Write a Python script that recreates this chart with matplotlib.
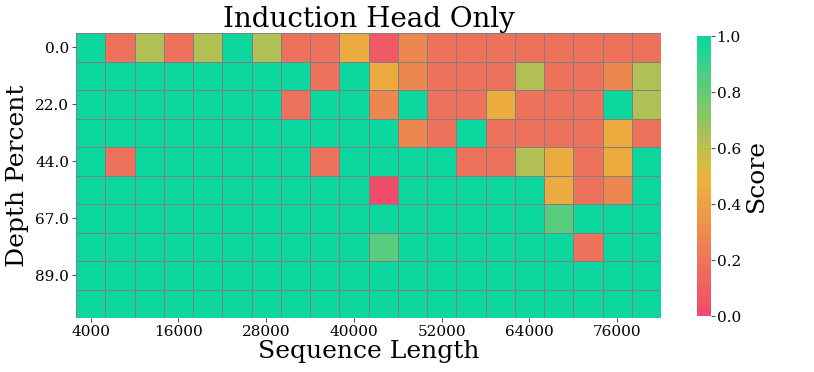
import matplotlib

matplotlib.use("Agg")
import matplotlib.pyplot as plt
import numpy as np
from matplotlib.colors import LinearSegmentedColormap

plt.rcParams["font.family"] = ["DejaVu Serif"]

# context lengths (columns) and needle depths (rows)
context_lengths = [4000, 8000, 12000, 16000, 20000, 24000, 28000, 32000, 36000, 40000,
                   44000, 48000, 52000, 56000, 60000, 64000, 68000, 72000, 76000, 80000]
depth_percents = [0.0, 11.0, 22.0, 33.0, 44.0, 56.0, 67.0, 78.0, 89.0, 100.0]

# scores, one list per depth row
row_00 = [1, .18, .63, .18, .63, 1, .63, .18, .18, .44, .08, .28, .18, .18, .18, .18, .18, .18, .18, .18]
row_11 = [1, 1, 1, 1, 1, 1, 1, 1, .18, 1, .44, .28, .18, .18, .18, .63, .18, .18, .28, .63]
row_22 = [1, 1, 1, 1, 1, 1, 1, .18, 1, 1, .28, 1, .18, .18, .44, .18, .18, .18, 1, .63]
row_33 = [1, 1, 1, 1, 1, 1, 1, 1, 1, 1, 1, .28, .18, 1, .18, .18, .18, .18, .44, .18]
row_44 = [1, .18, 1, 1, 1, 1, 1, 1, .18, 1, 1, 1, 1, .18, .18, .63, .44, .18, .44, 1]
row_56 = [1, 1, 1, 1, 1, 1, 1, 1, 1, 1, .02, 1, 1, 1, 1, 1, .44, .18, .28, 1]
row_67 = [1, 1, 1, 1, 1, 1, 1, 1, 1, 1, 1, 1, 1, 1, 1, 1, .83, 1, 1, 1]
row_78 = [1, 1, 1, 1, 1, 1, 1, 1, 1, 1, .83, 1, 1, 1, 1, 1, 1, .18, 1, 1]
row_89 = [1] * 20
row_100 = [1] * 20

scores = np.array([row_00, row_11, row_22, row_33, row_44, row_56, row_67, row_78, row_89, row_100])

cmap = LinearSegmentedColormap.from_list("custom_cmap", ["#F0496E", "#EBB839", "#0CD79F"])

fig = plt.figure(figsize=(8.14, 3.72), dpi=100)
ax = fig.add_axes([76 / 814, 54 / 372, 585 / 814, 285 / 372])
cax = fig.add_axes([697 / 814, 56 / 372, 14 / 814, 280 / 372])

mesh = ax.pcolormesh(scores, cmap=cmap, vmin=0, vmax=1, edgecolors="grey", linewidth=0.5)
ax.set_xlim(0, len(context_lengths)); ax.set_ylim(len(depth_percents), 0)
for sp in ax.spines.values():
    sp.set_visible(False)

xt = np.arange(0, len(context_lengths), 3)
ax.set_xticks(xt + 0.5)
ax.set_xticklabels([str(context_lengths[i]) for i in xt], fontsize=11)
yt = np.arange(0, len(depth_percents) - 1, 2)
ax.set_yticks(yt + 0.5)
ax.set_yticklabels([f"{depth_percents[i]:.1f}" for i in yt], fontsize=11)
ax.tick_params(length=3, width=0.8, color="#555555", pad=2)

ax.set_xlabel("Sequence Length", fontsize=18, labelpad=1)
ax.set_ylabel("Depth Percent", fontsize=18, labelpad=4)
ax.set_title("Induction Head Only", fontsize=20, pad=4)

cb = fig.colorbar(mesh, cax=cax)
cb.outline.set_visible(False)
cb.set_ticks([0, 0.2, 0.4, 0.6, 0.8, 1.0])
cb.ax.tick_params(labelsize=11, length=3, color="#555555", pad=1)
cb.set_label("Score", fontsize=18, labelpad=3)

fig.savefig("out.png", dpi=100)
plt.close(fig)
